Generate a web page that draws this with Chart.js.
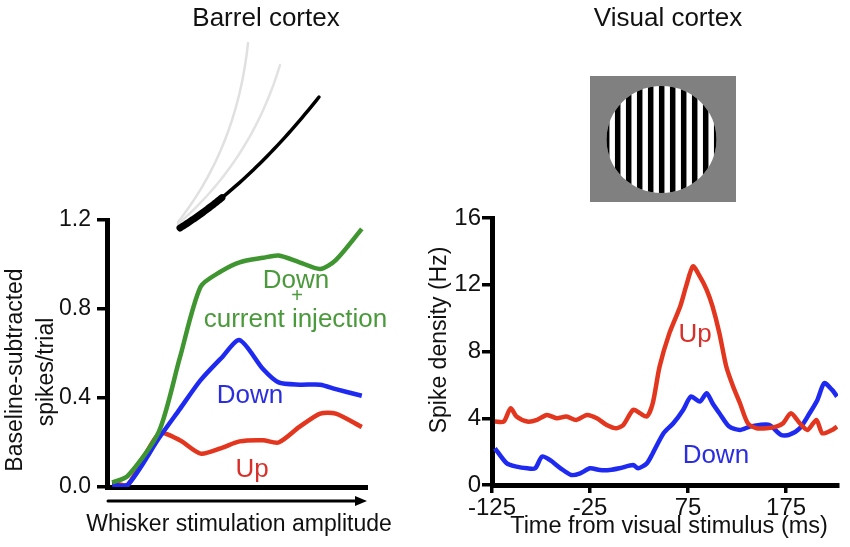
<!DOCTYPE html>
<html><head><meta charset="utf-8">
<script src="https://cdn.jsdelivr.net/npm/chart.js@4/dist/chart.umd.min.js"></script>
<style>
html,body{margin:0;padding:0;background:#fff;width:850px;height:547px;overflow:hidden}
.box{position:absolute;top:0;width:425px;height:547px}
#left{left:0} #right{left:425px}
</style></head><body>
<div class="box" id="left"><canvas id="barrel" width="425" height="547"></canvas></div>
<div class="box" id="right"><canvas id="visual" width="425" height="547"></canvas></div>
<script>
// barrel cortex — x is position along the amplitude axis (0..100)
const ampX    = [2, 8, 20, 28, 36, 44, 51, 60, 66, 74, 82, 88, 98];
const downInj = [0.02,0.05,0.25,0.58,0.90,0.97,1.01,1.03,1.04,1.01,0.98,1.02,1.16];
const downB   = [0.01,0.01,0.22,0.35,0.48,0.58,0.66,0.53,0.47,0.46,0.46,0.44,0.41];
const upB     = [0.02,0.01,0.24,0.21,0.15,0.175,0.205,0.21,0.20,0.27,0.33,0.33,0.27];
const barrelYTicks = [0,0.4,0.8,1.2];

// visual cortex — time (ms) vs spike density (Hz)
const upT  = [-122,-113,-106,-100,-89,-79,-69,-59,-49,-39,-28,-18,-8,2,9,19,26,33,39,46,56,67,73,80,87,94,100,107,114,121,128,136,145,155,165,172,180,189,197,206,212,222,227];
const upHz = [3.8,3.8,4.6,4.1,3.8,3.9,4.2,4.0,4.1,3.9,4.2,4.0,3.6,3.4,3.6,4.5,4.3,4.1,4.9,7.1,9.1,10.7,11.9,13.1,12.5,11.7,10.7,9.1,7.1,5.9,4.9,3.7,3.4,3.4,3.5,3.7,4.3,3.7,3.3,3.9,3.1,3.3,3.5];
const downT  = [-122,-110,-100,-89,-81,-74,-66,-55,-44,-35,-25,-15,-5,5,19,24,33,39,50,60,70,78,87,94,100,107,117,128,138,148,158,170,178,189,199,207,214,222,227];
const downHz = [2.2,1.3,1.1,1.0,1.0,1.7,1.5,1.0,0.6,0.7,1.0,0.9,0.9,1.0,1.2,1.0,1.3,1.9,3.1,3.7,4.5,5.3,5.0,5.5,4.9,4.3,3.5,3.3,3.5,3.6,3.6,3.0,3.0,3.4,4.3,5.1,6.1,5.7,5.3];
const visualXTicks = [-125,-25,75,175];
const visualYTicks = [0,4,8,12,16];

const FONT  = "'Liberation Sans', Arial, Helvetica, sans-serif";
const GREEN = '#3f9630', BLUE = '#1f2af0', RED = '#e2361f';

const barrelNotes = [
  {text:'Down', x:72.7, y:0.894, color:'#4a9a3c'},
  {text:'+', x:73.1, y:0.83, color:'#4a9a3c', size:20},
  {text:'current injection', x:72.5, y:0.719, color:'#4a9a3c'},
  {text:'Down', x:55, y:0.378, color:'#2a2ee0'},
  {text:'Up', x:55.8, y:0.045, color:'#d8302a'}
];
const visualNotes = [
  {text:'Up', x:82.2, y:8.57, color:'#d8302a'},
  {text:'Down', x:103.4, y:1.32, color:'#2a2ee0'}
];

const pts = (xs,ys) => xs.map((x,i)=>({x, y:ys[i]}));
const setTicks = vals => s => { s.ticks = vals.map(v=>({value:v})); };

const notes = {
  id:'notes',
  afterDatasetsDraw(chart, args, opts){
    const {ctx, scales:{x,y}} = chart;
    ctx.save();
    ctx.textAlign='center'; ctx.textBaseline='alphabetic';
    (opts.items||[]).forEach(n=>{
      ctx.font = `${n.size||26}px ${FONT}`;
      ctx.fillStyle = n.color;
      ctx.fillText(n.text, x.getPixelForValue(n.x), y.getPixelForValue(n.y));
    });
    ctx.restore();
  }
};

const txt = (ctx, s, x, y, size, rot) => {
  ctx.save(); ctx.translate(x,y); if(rot) ctx.rotate(rot);
  ctx.font = `${size}px ${FONT}`; ctx.fillStyle='#111';
  ctx.textAlign='center'; ctx.textBaseline='middle';
  ctx.fillText(s,0,0); ctx.restore();
};

const quad = (p0,c,p2,t) => {
  const a=(1-t)*(1-t), b=2*t*(1-t), d=t*t;
  return [a*p0[0]+b*c[0]+d*p2[0], a*p0[1]+b*c[1]+d*p2[1]];
};
const curve = (ctx,p0,c,p2,t0,t1,w,col) => {
  ctx.beginPath();
  for(let i=0;i<=40;i++){ const p=quad(p0,c,p2,t0+(t1-t0)*i/40); i?ctx.lineTo(p[0],p[1]):ctx.moveTo(p[0],p[1]); }
  ctx.lineWidth=w; ctx.strokeStyle=col; ctx.lineCap='round'; ctx.stroke();
};

const barrelFrame = {
  id:'barrelFrame',
  afterDraw(chart){
    const {ctx, chartArea:a} = chart;
    txt(ctx,'Barrel cortex',266,19,26);
    // whiskers
    curve(ctx,[178,222],[237,147],[248,43],0,1,2.5,'#e0e0e0');
    curve(ctx,[178,224],[251,161],[280,65],0,1,2.5,'#e2e2e2');
    curve(ctx,[180,228],[250,184],[319,97],0,1,3.5,'#000');
    curve(ctx,[180,228],[250,184],[319,97],0,0.3,7,'#000');
    // y title
    txt(ctx,'Baseline-subtracted',16,370,23,-Math.PI/2);
    txt(ctx,'spikes/trial',47,372,23,-Math.PI/2);
    // arrow under the axis
    const ay=501;
    ctx.save();
    ctx.strokeStyle='#000'; ctx.fillStyle='#000'; ctx.lineWidth=3;
    ctx.beginPath(); ctx.moveTo(a.left+1,ay); ctx.lineTo(a.right-8,ay); ctx.stroke();
    ctx.beginPath(); ctx.moveTo(a.right,ay); ctx.lineTo(a.right-12,ay-5); ctx.lineTo(a.right-12,ay+5); ctx.closePath(); ctx.fill();
    ctx.restore();
    ctx.save(); ctx.font=`23px ${FONT}`; ctx.fillStyle='#111'; ctx.textAlign='center'; ctx.textBaseline='alphabetic';
    ctx.fillText('Whisker stimulation amplitude',239,531); ctx.restore();
  }
};

const visualFrame = {
  id:'visualFrame',
  afterDraw(chart){
    const {ctx} = chart;
    txt(ctx,'Visual cortex',243,19,26);
    // grating stimulus
    ctx.save();
    ctx.fillStyle='#808080'; ctx.fillRect(165,76,146,126);
    ctx.beginPath(); ctx.ellipse(236.5,139.5,55,53.5,0,0,Math.PI*2);
    ctx.fillStyle='#fff'; ctx.fill(); ctx.clip();
    ctx.fillStyle='#000';
    for(let k=-6;k<=6;k++) ctx.fillRect(236.7+k*11-2.75,80,5.5,120);
    ctx.restore();
    txt(ctx,'Spike density (Hz)',15,340,23,-Math.PI/2);
    ctx.save(); ctx.font=`23.5px ${FONT}`; ctx.fillStyle='#111'; ctx.textAlign='center'; ctx.textBaseline='alphabetic';
    ctx.fillText('Time from visual stimulus (ms)',244,533); ctx.restore();
  }
};

const line = (data,color) => ({data, borderColor:color, borderWidth:4.5, pointRadius:0, tension:0.25, fill:false});
const axisGrid = len => ({display:true, drawOnChartArea:false, drawTicks:true, tickLength:len, color:'#000', lineWidth:3.5});

new Chart(document.getElementById('barrel'),{
  type:'line',
  data:{datasets:[line(pts(ampX,downInj),GREEN), line(pts(ampX,downB),BLUE), line(pts(ampX,upB),RED)]},
  options:{
    responsive:false, animation:false, events:[],
    layout:{padding:{top:220,right:58,left:0,bottom:0}},
    plugins:{legend:{display:false}, tooltip:{enabled:false}, notes:{items:barrelNotes}},
    scales:{
      x:{type:'linear', min:0, max:100, ticks:{display:false}, grid:{display:false},
         border:{display:true,color:'#000',width:5}, afterFit:s=>{s.height=60;}},
      y:{min:0, max:1.2, afterBuildTicks:setTicks(barrelYTicks),
         ticks:{callback:v=>v.toFixed(1), color:'#111', font:{family:FONT,size:23}, padding:6},
         grid:axisGrid(10), border:{display:true,color:'#000',width:5}, afterFit:s=>{s.width=107;}}
    }
  },
  plugins:[notes, barrelFrame]
});

new Chart(document.getElementById('visual'),{
  type:'line',
  data:{datasets:[line(pts(upT,upHz),RED), line(pts(downT,downHz),BLUE)]},
  options:{
    responsive:false, animation:false, events:[],
    layout:{padding:{top:218,right:12,left:0,bottom:0}},
    plugins:{legend:{display:false}, tooltip:{enabled:false}, notes:{items:visualNotes}},
    scales:{
      x:{type:'linear', min:-125, max:228, afterBuildTicks:setTicks(visualXTicks),
         ticks:{color:'#111', font:{family:FONT,size:24}, padding:1, maxRotation:0},
         grid:axisGrid(8), border:{display:true,color:'#000',width:5}, afterFit:s=>{s.height=62;}},
      y:{min:0, max:16, afterBuildTicks:setTicks(visualYTicks),
         ticks:{color:'#111', font:{family:FONT,size:24}, padding:1},
         grid:axisGrid(10), border:{display:true,color:'#000',width:5}, afterFit:s=>{s.width=67;}}
    }
  },
  plugins:[notes, visualFrame]
});
</script>
</body></html>
